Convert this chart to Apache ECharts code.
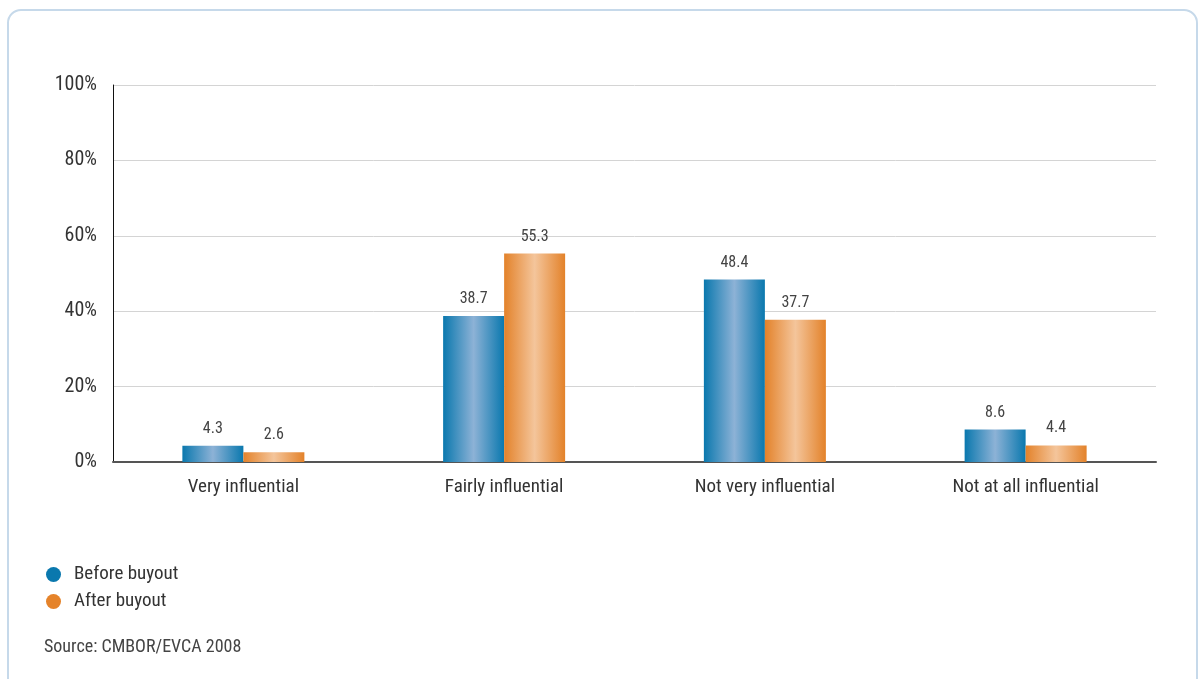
<!DOCTYPE html>
<html>
<head>
<meta charset="utf-8">
<script src="https://cdn.jsdelivr.net/npm/echarts@6/dist/echarts.min.js"></script>
<style>
html,body{margin:0;padding:0;background:#fff;width:1204px;height:679px;overflow:hidden;}
#frame{position:absolute;left:7px;top:9px;width:1191px;height:720px;border:2px solid #c6d9ea;border-radius:14px;box-sizing:border-box;}
#chart{position:absolute;left:0;top:0;width:1204px;height:679px;}
</style>
</head>
<body>
<div id="frame"></div>
<div id="chart"></div>
<script>
const categories = ["Very influential", "Fairly influential", "Not very influential", "Not at all influential"];
const beforeBuyout = [4.3, 38.7, 48.4, 8.6];
const afterBuyout = [2.6, 55.3, 37.7, 4.4];
const seriesNames = ["Before buyout", "After buyout"];
const sourceText = "Source: CMBOR/EVCA 2008";

const FONT = "'Liberation Sans Narrow', 'Roboto Condensed', 'Roboto', sans-serif";

function grad(edge, mid) {
  return new echarts.graphic.LinearGradient(0, 0, 1, 0, [
    {offset: 0, color: edge},
    {offset: 0.5, color: mid},
    {offset: 1, color: edge}
  ]);
}

const chart = echarts.init(document.getElementById('chart'), null, {renderer: 'canvas'});
chart.setOption({
  animation: false,
  textStyle: {fontFamily: FONT},
  grid: {left: 113, right: 48, top: 85, bottom: 217},
  legend: {
    orient: 'vertical',
    left: 46, top: 565,
    padding: 0,
    icon: 'circle',
    itemWidth: 15, itemHeight: 15,
    itemGap: 8,
    textStyle: {fontFamily: FONT, fontSize: 19, color: '#333', padding: [0, 0, 0, 8]},
    data: [
      {name: seriesNames[0], itemStyle: {color: '#0a78ae'}},
      {name: seriesNames[1], itemStyle: {color: '#e5832a'}}
    ]
  },
  graphic: [{
    type: 'text', left: 44, top: 638,
    style: {text: sourceText, fontFamily: FONT, fontSize: 18, fill: '#444'}
  }],
  xAxis: {
    type: 'category',
    data: categories,
    axisTick: {show: false},
    axisLine: {lineStyle: {color: '#555', width: 2}},
    axisLabel: {fontFamily: FONT, fontSize: 19, color: '#333', margin: 16}
  },
  yAxis: {
    type: 'value', min: 0, max: 100, interval: 20,
    axisLine: {show: true, lineStyle: {color: '#111', width: 1}},
    axisTick: {show: false},
    splitLine: {lineStyle: {color: '#d4d4d4', width: 1}},
    axisLabel: {formatter: '{value}%', fontFamily: FONT, fontSize: 20, color: '#333', margin: 16}
  },
  series: [
    {
      name: seriesNames[0], type: 'bar', data: beforeBuyout,
      barWidth: 61, barGap: '0%',
      itemStyle: {color: grad('#0a78ae', '#8db2d6')},
      label: {show: true, position: 'top', distance: 9, fontFamily: FONT, fontSize: 16, color: '#444'}
    },
    {
      name: seriesNames[1], type: 'bar', data: afterBuyout,
      barWidth: 61, barGap: '0%',
      itemStyle: {color: grad('#e3822a', '#f4c59b')},
      label: {show: true, position: 'top', distance: 9, fontFamily: FONT, fontSize: 16, color: '#444'}
    }
  ]
});
</script>
</body>
</html>
